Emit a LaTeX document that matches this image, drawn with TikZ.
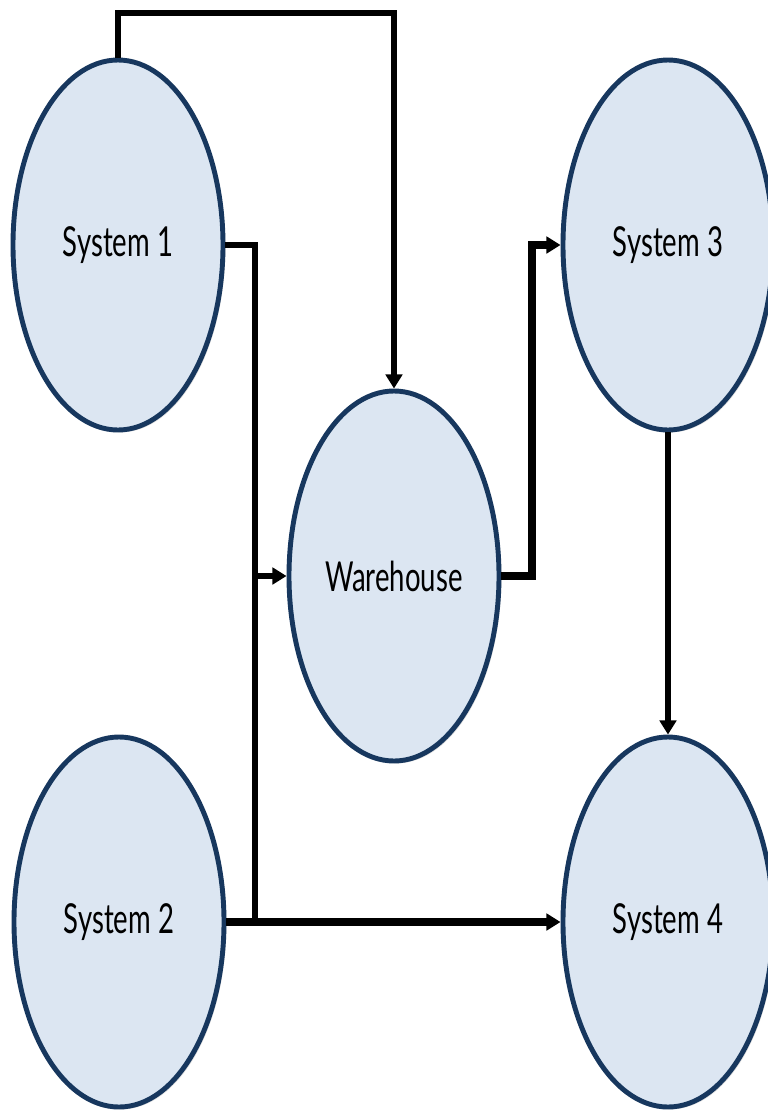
\documentclass[tikz,border=0pt]{standalone}
\usepackage{fontspec}
\setmainfont{Lato}
\usepackage{graphicx}
\usepackage{xcolor}
\usepackage{tikz}
\usetikzlibrary{shapes.geometric,arrows.meta,shadows}

\definecolor{sysfill}{HTML}{DCE6F2}
\definecolor{sysline}{HTML}{17375E}
\newcommand{\tallname}[1]{\scalebox{1}[1.5]{#1}}

\begin{document}
\begin{tikzpicture}[x=0.03cm,y=-0.03cm,
  sysnode/.style={ellipse,draw=sysline,fill=sysfill,line width=4.2pt,
    minimum width=6.3cm,minimum height=11.1cm,inner sep=0pt,
    font=\fontsize{23.5}{26}\selectfont,
    drop shadow={shadow xshift=2pt,shadow yshift=-2pt,opacity=.25}},
  link/.style={-{Triangle[length=12pt,width=14pt]},draw=black,line width=4.6pt,line join=miter},
  heavylink/.style={link,line width=6.4pt}]
\useasboundingbox (0,0) rectangle (768,1114);
\node[sysnode] (sys1) at (118,245) {\tallname{System 1}};
\node[sysnode] (sys3) at (668,245) {\tallname{System 3}};
\node[sysnode] (wh) at (394,576) {\tallname{Warehouse}};
\node[sysnode] (sys2) at (119,922) {\tallname{System 2}};
\node[sysnode] (sys4) at (668,922) {\tallname{System 4}};
\coordinate (topbus) at (0,13);
\coordinate (leftbus) at (255,0);
\coordinate (midbus) at (532,0);
% feeds into the warehouse
\draw[link] (sys1.north) |- (topbus -| wh.north) -- (wh.north);
\draw[link] (sys1.east) -- (sys1.east -| leftbus) |- (wh.west);
\draw[line width=4.6pt] (sys1.east -| leftbus) -- (sys2.east -| leftbus);
\draw[heavylink] (sys2.east) -- (sys4.west);
% warehouse out to the other systems
\draw[heavylink] (wh.east) -- (wh.east -| midbus) |- (sys3.west);
\draw[link] (sys3.south) -- (sys4.north);
\end{tikzpicture}
\end{document}
